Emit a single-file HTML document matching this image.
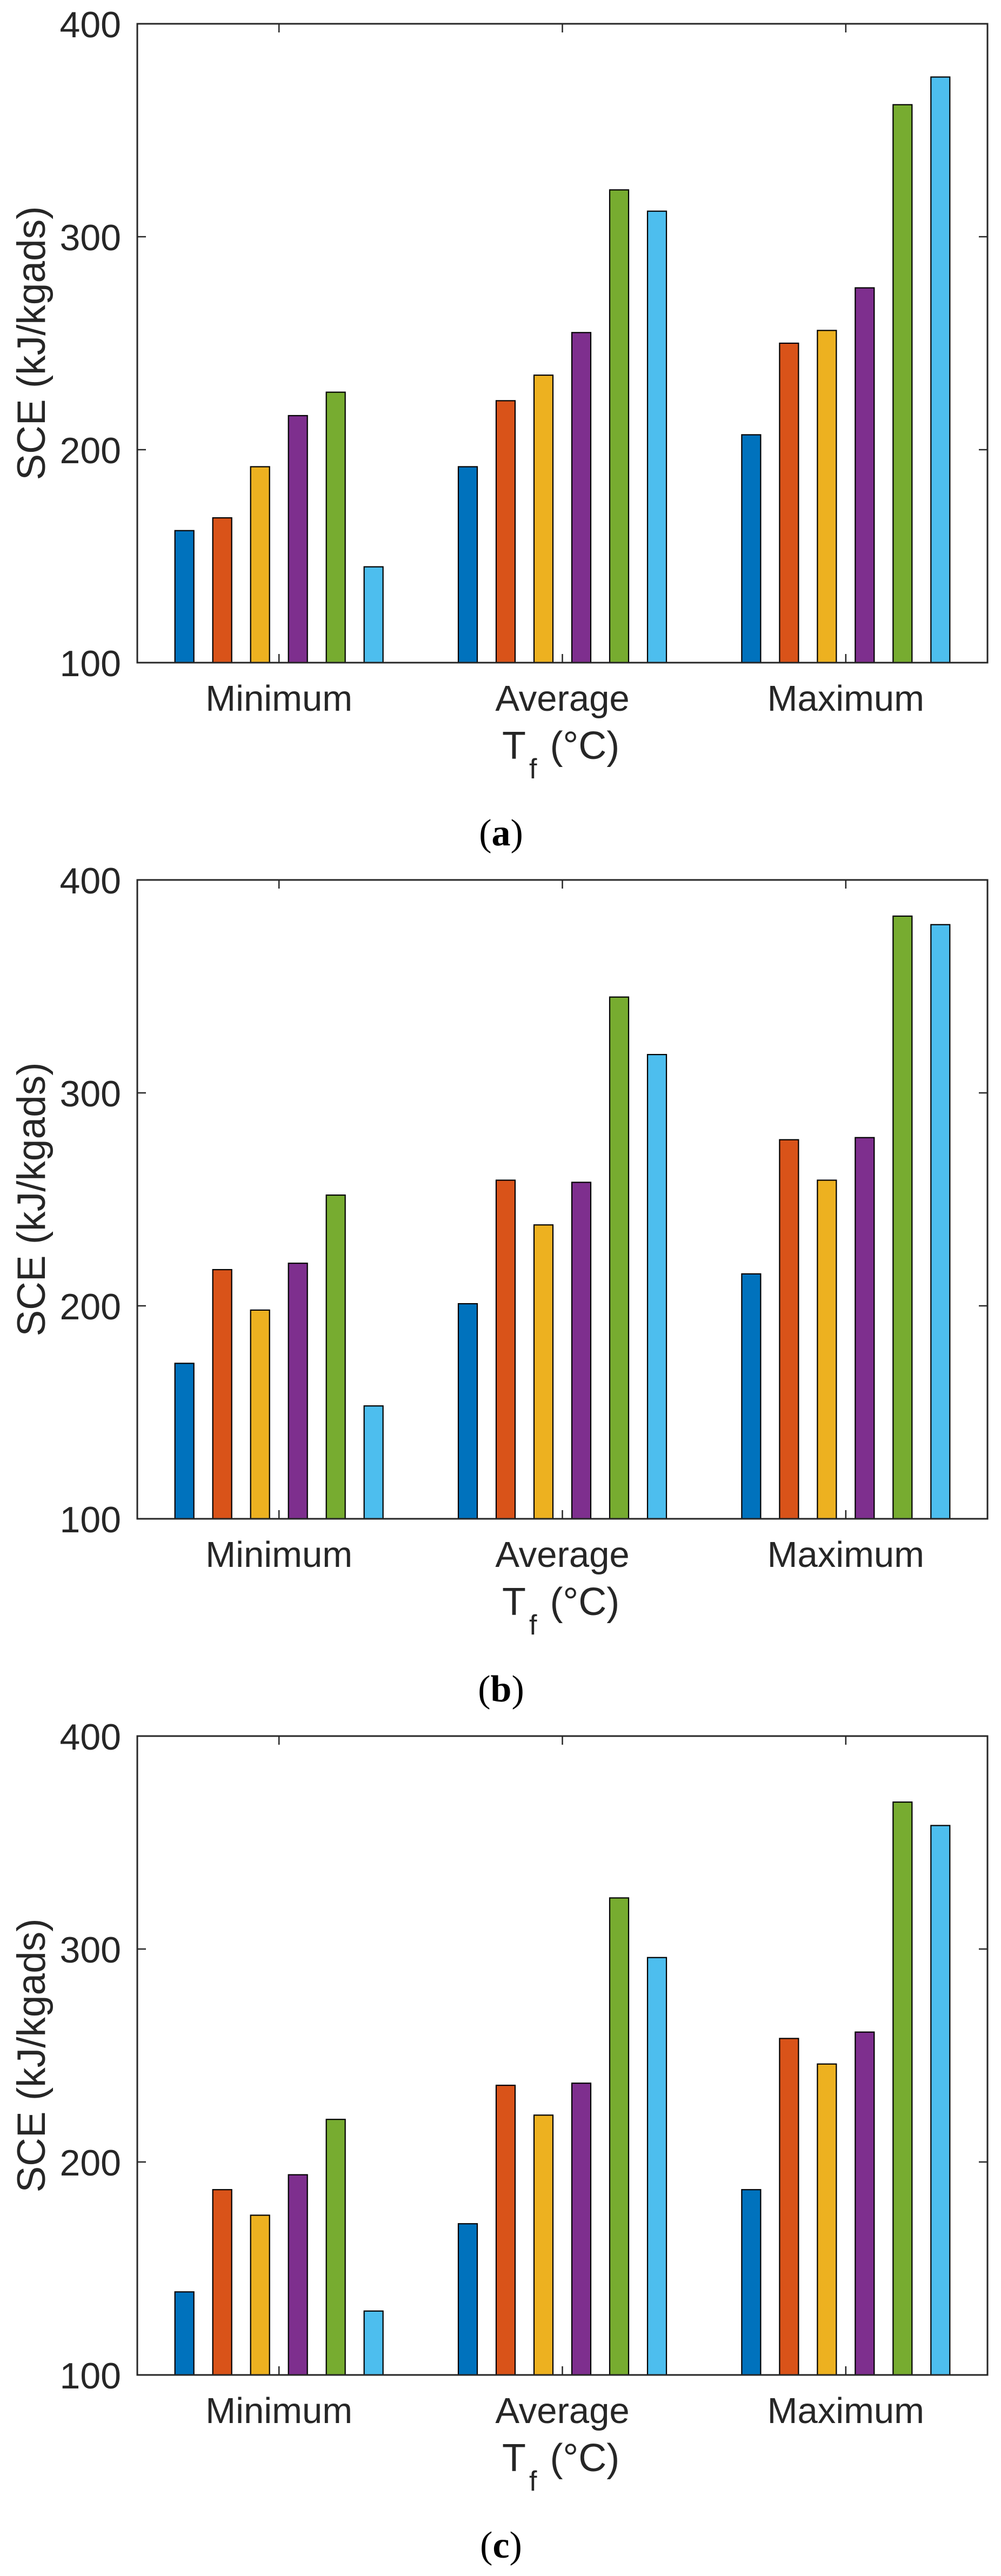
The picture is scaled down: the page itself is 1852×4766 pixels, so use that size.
<!DOCTYPE html>
<html><head><meta charset="utf-8"><style>
html,body{margin:0;padding:0;background:#fff;}
svg{display:block;}
</style></head><body>
<svg id="fig" width="1852" height="4766" viewBox="0 0 1852 4766" xmlns="http://www.w3.org/2000/svg" font-family="'Liberation Sans', Arial, sans-serif"></svg>
<script>
const categories = ["Minimum", "Average", "Maximum"];
const yTicks = [100, 200, 300, 400];
const panelLabels = ["a", "b", "c"];
const colors = ["#0072BD", "#D95319", "#EDB120", "#7E2F8E", "#77AC30", "#4DBEEE"];
// series values per panel: [series][category]
const panelA = [
  [162, 192, 207],
  [168, 223, 250],
  [192, 235, 256],
  [216, 255, 276],
  [227, 322, 362],
  [145, 312, 375]
];
const panelB = [
  [173, 201, 215],
  [217, 259, 278],
  [198, 238, 259],
  [220, 258, 279],
  [252, 345, 383],
  [153, 318, 379]
];
const panelC = [
  [139, 171, 187],
  [187, 236, 258],
  [175, 222, 246],
  [194, 237, 261],
  [220, 324, 369],
  [130, 296, 358]
];
const panels = [panelA, panelB, panelC];

const NS = "http://www.w3.org/2000/svg";
const svg = document.getElementById("fig");
function mk(tag, attrs, parent) {
  const e = document.createElementNS(NS, tag);
  for (const k in attrs) e.setAttribute(k, attrs[k]);
  (parent || svg).appendChild(e);
  return e;
}
const L = 254, R = 1827, H = 1182, PERIOD = 1584, TOP0 = 44;
const yMin = 100, yMax = 400;
const nCat = categories.length;
function xScale(c) { return L + (c + 0.5) / nCat * (R - L); }
const groupW = (R - L) / nCat;
const barStep = groupW * 0.1335;
const barW = 35;

panels.forEach((data, p) => {
  const top = TOP0 + p * PERIOD, bot = top + H;
  const yScale = v => bot - (v - yMin) / (yMax - yMin) * H;
  const g = mk("g", {});
  
  

  data.forEach((series, s) => {
    series.forEach((v, c) => {
      const cx = xScale(c) + (s - 2.5) * barStep;
      const r = mk("rect", {x: cx - barW / 2, y: yScale(v), width: barW, height: bot - yScale(v),
        fill: colors[s], stroke: "#000", "stroke-width": 2.2}, g);
      
      
    });
  });

  const box = mk("rect", {x: L, y: top, width: R - L, height: H, fill: "none", stroke: "#262626", "stroke-width": 3}, g);
  
  

  yTicks.forEach(t => {
    const y = yScale(t);
    mk("line", {x1: L, x2: L + 16, y1: y, y2: y, stroke: "#262626", "stroke-width": 2.5}, g);
    mk("line", {x1: R, x2: R - 16, y1: y, y2: y, stroke: "#262626", "stroke-width": 2.5}, g);
    const tx = mk("text", {x: 224, y: y + 25, "text-anchor": "end", "font-size": 68, fill: "#262626"}, g);
    tx.textContent = t;
    
    
  });
  categories.forEach((cat, c) => {
    const x = xScale(c);
    mk("line", {x1: x, x2: x, y1: top, y2: top + 16, stroke: "#262626", "stroke-width": 2.5}, g);
    mk("line", {x1: x, x2: x, y1: bot, y2: bot - 16, stroke: "#262626", "stroke-width": 2.5}, g);
    const tx = mk("text", {x: x, y: bot + 89, "text-anchor": "middle", "font-size": 67, fill: "#262626"}, g);
    tx.textContent = cat;
    
    
  });
  const xt = mk("text", {x: 929, y: bot + 178, "font-size": 72, fill: "#262626"}, g);
  
  
  const t1 = mk("tspan", {}, xt); t1.textContent = "T";
  const t2 = mk("tspan", {"font-size": 52, dy: 36, dx: 6}, xt); t2.textContent = "f";
  const t3 = mk("tspan", {dy: -36, dx: 24}, xt); t3.textContent = "(°C)";
  const cy = (top + bot) / 2;
  const yt = mk("text", {x: 0, y: 0, transform: "translate(83," + cy + ") rotate(-90)", "text-anchor": "middle", "font-size": 73, fill: "#262626"}, g);
  yt.textContent = "SCE (kJ/kgads)";
  
  
  const cap = mk("text", {x: 927, y: bot + 338, "text-anchor": "middle", "font-size": 70, fill: "#000", "font-family": "'Liberation Serif', serif"}, g);
  
  
  const c1 = mk("tspan", {}, cap); c1.textContent = "(";
  const c2 = mk("tspan", {"font-weight": "bold"}, cap); c2.textContent = panelLabels[p];
  const c3 = mk("tspan", {}, cap); c3.textContent = ")";
});
</script>
</body></html>
